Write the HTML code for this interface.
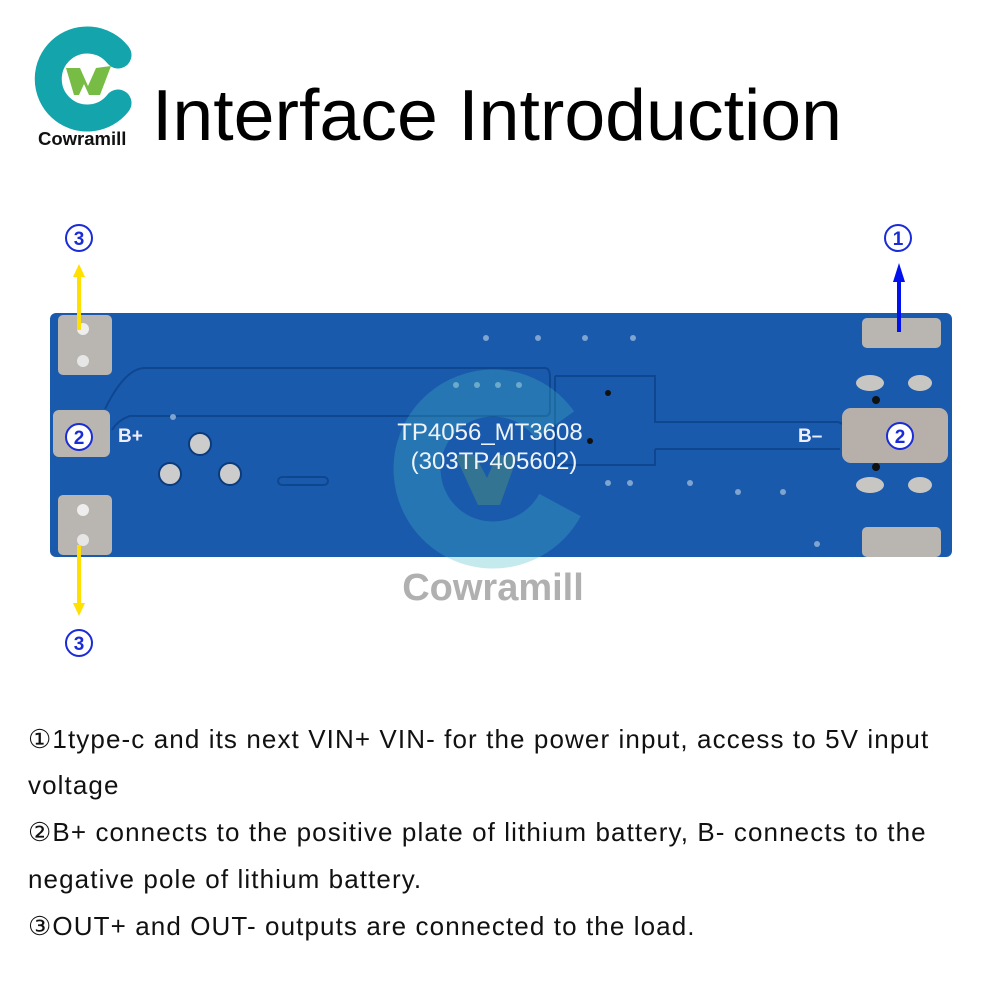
<!DOCTYPE html>
<html><head><meta charset="utf-8"><style>
body{margin:0;width:1000px;height:1000px;background:#fff;position:relative;overflow:hidden;font-family:"Liberation Sans",sans-serif}
.t{position:absolute;left:28px;font-size:26px;letter-spacing:1.1px;color:#111;white-space:nowrap}
</style></head><body>
<svg width="1000" height="1000" style="position:absolute;left:0;top:0">
<!-- logo -->
<path d="M118,55 A39,39 0 1 0 118,103" fill="none" stroke="#13a4ac" stroke-width="27" stroke-linecap="round"/>
<polygon points="66,68 80,68 88,86 96,68 111,66 100,95 89,95 84,84 79,95 74,95" fill="#77bd45"/>
<text x="38" y="145" font-size="18.5" font-weight="bold" fill="#111">Cowramill</text>
<text x="152" y="140" font-size="72" fill="#000" textLength="690" lengthAdjust="spacingAndGlyphs">Interface Introduction</text>
<!-- board -->
<rect x="50" y="313" width="902" height="244" rx="6" fill="#1a5aad"/>
<path d="M105,409 Q125,368 145,368 L545,368 Q550,368 550,378 L550,410 Q550,416 545,416 L130,416 Q118,420 112,430" fill="none" stroke="#0f4690" stroke-width="2"/>
<path d="M555,376 L655,376 L655,422 L838,422 Q845,424 848,430 M655,449 L840,449 M555,376 L555,465 L655,465 L655,449" fill="none" stroke="#0f4690" stroke-width="2"/>
<!-- left pads -->
<rect x="58" y="315" width="54" height="60" rx="5" fill="#b9b6b1"/>
<rect x="53" y="410" width="57" height="47" rx="6" fill="#b9b6b1"/>
<rect x="58" y="495" width="54" height="60" rx="5" fill="#b9b6b1"/>
<circle cx="83" cy="329" r="6" fill="#eee"/><circle cx="83" cy="361" r="6" fill="#e6e6e6"/>
<circle cx="83" cy="510" r="6" fill="#eee"/><circle cx="83" cy="540" r="6" fill="#e6e6e6"/>
<!-- right pads -->
<rect x="862" y="318" width="79" height="30" rx="5" fill="#b9b6b1"/>
<rect x="842" y="408" width="106" height="55" rx="9" fill="#b7b0aa"/>
<rect x="862" y="527" width="79" height="30" rx="5" fill="#b9b6b1"/>
<ellipse cx="870" cy="383" rx="14" ry="8" fill="#c8c6c2"/><ellipse cx="920" cy="383" rx="12" ry="8" fill="#c8c6c2"/>
<ellipse cx="870" cy="485" rx="14" ry="8" fill="#c8c6c2"/><ellipse cx="920" cy="485" rx="12" ry="8" fill="#c8c6c2"/>
<circle cx="876" cy="400" r="4" fill="#111"/><circle cx="876" cy="467" r="4" fill="#111"/>
<!-- vias -->
<circle cx="200" cy="444" r="11" fill="#ccc" stroke="#0b3b7a" stroke-width="2"/>
<circle cx="170" cy="474" r="11" fill="#ccc" stroke="#0b3b7a" stroke-width="2"/>
<circle cx="230" cy="474" r="11" fill="#ccc" stroke="#0b3b7a" stroke-width="2"/>
<rect x="278" y="477" width="50" height="8" rx="4" fill="none" stroke="#0f4690" stroke-width="2"/>
<g fill="#7fa4cf"><circle cx="456" cy="385" r="3"/><circle cx="477" cy="385" r="3"/><circle cx="498" cy="385" r="3"/><circle cx="519" cy="385" r="3"/>
<circle cx="486" cy="338" r="3"/><circle cx="538" cy="338" r="3"/><circle cx="585" cy="338" r="3"/><circle cx="633" cy="338" r="3"/>
<circle cx="608" cy="483" r="3"/><circle cx="630" cy="483" r="3"/><circle cx="690" cy="483" r="3"/><circle cx="738" cy="492" r="3"/><circle cx="783" cy="492" r="3"/><circle cx="817" cy="544" r="3"/><circle cx="173" cy="417" r="3"/></g>
<circle cx="608" cy="393" r="3" fill="#111"/><circle cx="590" cy="441" r="3" fill="#111"/>
<!-- watermark -->
<path d="M555,425 A76,76 0 1 0 560,505" fill="none" stroke="#3fb8c4" stroke-opacity="0.3" stroke-width="47"/>
<polygon points="455,455 475,455 487,478 497,455 518,455 500,505 478,505" fill="#6fb45a" fill-opacity="0.3"/>
<text x="490" y="440" text-anchor="middle" font-size="24" fill="#eef3f8">TP4056_MT3608</text>
<text x="494" y="469" text-anchor="middle" font-size="24" fill="#eef3f8">(303TP405602)</text>
<text x="118" y="442" font-size="19" font-weight="bold" fill="#eef">B+</text>
<text x="798" y="442" font-size="19" font-weight="bold" fill="#eef">B–</text>
<text x="493" y="600" text-anchor="middle" font-size="38" font-weight="bold" fill="#b0b0b0">Cowramill</text>
<!-- arrows -->
<line x1="79" y1="330" x2="79" y2="275" stroke="#ffe000" stroke-width="4"/><polygon points="73,277 85,277 79,264" fill="#ffe000"/>
<line x1="79" y1="545" x2="79" y2="605" stroke="#ffe000" stroke-width="4"/><polygon points="73,603 85,603 79,616" fill="#ffe000"/>
<line x1="899" y1="332" x2="899" y2="280" stroke="#0011ee" stroke-width="4"/><polygon points="893,282 905,282 899,263" fill="#0011ee"/>
<!-- circled numbers -->
<g fill="#fff" stroke="#1a2bd8" stroke-width="2"><circle cx="79" cy="238" r="13"/><circle cx="79" cy="643" r="13"/><circle cx="898" cy="238" r="13"/><circle cx="79" cy="437" r="13"/><circle cx="900" cy="436" r="13"/></g>
<g fill="#1a2bd8" font-size="19" font-weight="bold" text-anchor="middle"><text x="79" y="245">3</text><text x="79" y="650">3</text><text x="898" y="245">1</text><text x="79" y="444">2</text><text x="900" y="443">2</text></g>
</svg>
<div class="t" style="top:724px">①1type-c and its next VIN+ VIN- for the power input, access to 5V input</div>
<div class="t" style="top:770px">voltage</div>
<div class="t" style="top:817px">②B+ connects to the positive plate of lithium battery, B- connects to the</div>
<div class="t" style="top:864px">negative pole of lithium battery.</div>
<div class="t" style="top:911px">③OUT+ and OUT- outputs are connected to the load.</div>
</body></html>
